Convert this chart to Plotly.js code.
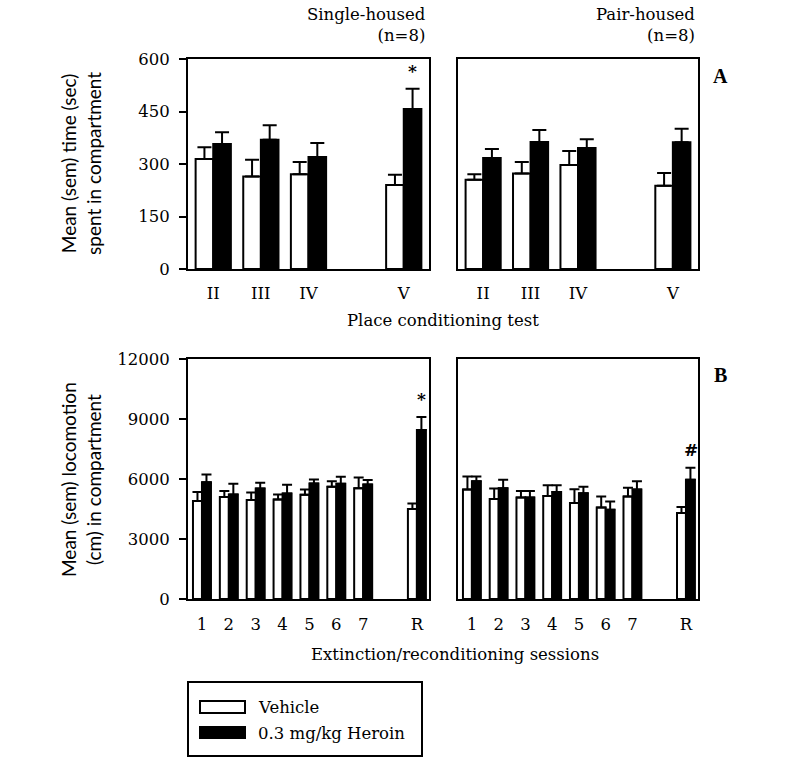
<!DOCTYPE html>
<html>
<head>
<meta charset="utf-8">
<script src="https://cdn.plot.ly/plotly-3.0.1.min.js"></script>
<style>html,body{margin:0;padding:0;background:#fff;}#chart{width:791px;height:760px;}</style>
</head>
<body>
<div id="chart"></div>
<script>
// ---------- DATA ----------
const placeTests = ['II', 'III', 'IV', 'V'];
const sessions = ['1', '2', '3', '4', '5', '6', '7', 'R'];

// Panel A: time in compartment (sec), mean and upper SEM
const singleVehicleA = [314, 264, 271, 240];
const singleVehicleAErr = [34, 48, 35, 29];
const singleHeroinA = [357, 369, 320, 457];
const singleHeroinAErr = [34, 42, 40, 58];
const pairVehicleA = [255, 273, 297, 238];
const pairVehicleAErr = [16, 33, 40, 36];
const pairHeroinA = [317, 363, 346, 362];
const pairHeroinAErr = [26, 34, 25, 39];

// Panel B: locomotion (cm), mean and upper SEM
const singleVehicleB = [4900, 5100, 4950, 4980, 5210, 5610, 5540, 4500];
const singleVehicleBErr = [450, 300, 380, 250, 265, 280, 530, 280];
const singleHeroinB = [5840, 5230, 5530, 5280, 5780, 5760, 5730, 8450];
const singleHeroinBErr = [380, 530, 280, 430, 200, 350, 220, 650];
const pairVehicleB = [5470, 5000, 5070, 5150, 4800, 4580, 5120, 4300];
const pairVehicleBErr = [650, 520, 335, 540, 690, 540, 440, 300];
const pairHeroinB = [5890, 5540, 5070, 5350, 5290, 4460, 5470, 5960];
const pairHeroinBErr = [235, 420, 335, 340, 320, 420, 420, 600];

const seriesNames = ['Vehicle', '0.3 mg/kg Heroin'];
const groupLabels = ['Single-housed<br>(n=8)', 'Pair-housed<br>(n=8)'];
const yTitleA = 'Mean (sem) time (sec)<br>spent in compartment';
const yTitleB = 'Mean (sem) locomotion<br>(cm) in compartment';
const xTitleA = 'Place conditioning test';
const xTitleB = 'Extinction/reconditioning sessions';
const yTicksA = [0, 150, 300, 450, 600];
const yTicksB = [0, 3000, 6000, 9000, 12000];

// ---------- LAYOUT HELPERS ----------
const W = 791, H = 760;
const px = x => x / W;
const py = y => 1 - y / H;
const SERIF = 'DejaVu Serif';
const SANS = 'Lato';
const FS = 16.5;

// category order with a blank spacer before the last category
const withSpacer = cats => cats.slice(0, -1).concat([' '], cats.slice(-1));

function barPair(cats, vMean, vErr, hMean, hErr, xa, ya, w, capw) {
  const zeros = cats.map(() => 0);
  return [
    {
      type: 'bar', x: cats, y: vMean, name: seriesNames[0], xaxis: xa, yaxis: ya,
      width: w, offset: -w, showlegend: false,
      marker: {color: '#ffffff', line: {color: '#000000', width: 2}},
      error_y: {type: 'data', symmetric: false, array: vErr, arrayminus: zeros,
                color: '#000', thickness: 2, width: capw}
    },
    {
      type: 'bar', x: cats, y: hMean, name: seriesNames[1], xaxis: xa, yaxis: ya,
      width: w, offset: 0, showlegend: false,
      marker: {color: '#000000', line: {color: '#000000', width: 2}},
      error_y: {type: 'data', symmetric: false, array: hErr, arrayminus: zeros,
                color: '#000', thickness: 2, width: capw}
    }
  ];
}

const data = [].concat(
  barPair(placeTests, singleVehicleA, singleVehicleAErr, singleHeroinA, singleHeroinAErr, 'x', 'y', 0.37, 7),
  barPair(placeTests, pairVehicleA, pairVehicleAErr, pairHeroinA, pairHeroinAErr, 'x2', 'y2', 0.37, 7),
  barPair(sessions, singleVehicleB, singleVehicleBErr, singleHeroinB, singleHeroinBErr, 'x3', 'y3', 0.335, 5),
  barPair(sessions, pairVehicleB, pairVehicleBErr, pairHeroinB, pairHeroinBErr, 'x4', 'y4', 0.335, 5)
);

const colL = [px(188), px(429)];
const colR = [px(458), px(698)];
const rowA = [py(269), py(59)];
const rowB = [py(599), py(359)];

function xAxis(domain, anchor, cats, range, standoff) {
  return {
    domain: domain, anchor: anchor, type: 'category',
    categoryorder: 'array', categoryarray: withSpacer(cats),
    range: range, showline: true, mirror: true, linecolor: '#000', linewidth: 2,
    ticks: '', showgrid: false, zeroline: false, fixedrange: true,
    tickfont: {family: SERIF, size: FS, color: '#000'},
    ticklabelstandoff: standoff
  };
}
function yAxis(domain, anchor, range, tickvals, showLabels) {
  return {
    domain: domain, anchor: anchor, range: range,
    showline: true, mirror: true, linecolor: '#000', linewidth: 2,
    ticks: showLabels ? 'outside' : '', ticklen: 7, tickwidth: 2, tickcolor: '#000',
    tickvals: tickvals, tickformat: 'd', showticklabels: showLabels,
    showgrid: false, zeroline: false, fixedrange: true,
    tickfont: {family: SERIF, size: FS, color: '#000'},
    ticklabelstandoff: 6
  };
}

const annFont = {family: SERIF, size: FS, color: '#000'};
const titleFont = {family: SANS, size: 19, color: '#000'};
const annotations = [
  {xref: 'paper', yref: 'paper', x: px(428), y: py(3), xanchor: 'right', yanchor: 'top',
   align: 'right', text: groupLabels[0], showarrow: false, font: annFont},
  {xref: 'paper', yref: 'paper', x: px(697), y: py(3), xanchor: 'right', yanchor: 'top',
   align: 'right', text: groupLabels[1], showarrow: false, font: annFont},
  {xref: 'paper', yref: 'paper', x: px(443), y: py(321), xanchor: 'center', yanchor: 'middle',
   text: xTitleA, showarrow: false, font: annFont},
  {xref: 'paper', yref: 'paper', x: px(455), y: py(654), xanchor: 'center', yanchor: 'middle',
   text: xTitleB, showarrow: false, font: annFont},
  {xref: 'paper', yref: 'paper', x: px(81), y: py(164), xanchor: 'center', yanchor: 'middle',
   text: yTitleA, textangle: -90, showarrow: false, font: titleFont},
  {xref: 'paper', yref: 'paper', x: px(81), y: py(480), xanchor: 'center', yanchor: 'middle',
   text: yTitleB, textangle: -90, showarrow: false, font: titleFont},
  {xref: 'paper', yref: 'paper', x: px(720), y: py(76), xanchor: 'center', yanchor: 'middle',
   text: '<b>A</b>', showarrow: false, font: {family: 'Liberation Serif', size: 20, color: '#000'}},
  {xref: 'paper', yref: 'paper', x: px(720), y: py(375), xanchor: 'center', yanchor: 'middle',
   text: '<b>B</b>', showarrow: false, font: {family: 'Liberation Serif', size: 20, color: '#000'}},
  // significance markers
  {xref: 'x', yref: 'y', x: 'V', y: singleHeroinA[3] + singleHeroinAErr[3], xshift: 9, yshift: 6,
   yanchor: 'bottom', text: '<b>*</b>', showarrow: false, font: {family: SERIF, size: 17, color: '#000'}},
  {xref: 'x3', yref: 'y3', x: 'R', y: singleHeroinB[7] + singleHeroinBErr[7], xshift: 5, yshift: 6,
   yanchor: 'bottom', text: '<b>*</b>', showarrow: false, font: {family: SERIF, size: 17, color: '#000'}},
  {xref: 'x4', yref: 'y4', x: 'R', y: pairHeroinB[7] + pairHeroinBErr[7], xshift: 5, yshift: 6,
   yanchor: 'bottom', text: '<b>#</b>', showarrow: false, font: {family: SERIF, size: 17, color: '#000'}},
  // legend labels
  {xref: 'paper', yref: 'paper', x: px(256), y: py(707), xanchor: 'left', yanchor: 'middle',
   text: seriesNames[0], showarrow: false, font: annFont},
  {xref: 'paper', yref: 'paper', x: px(256), y: py(733), xanchor: 'left', yanchor: 'middle',
   text: seriesNames[1], showarrow: false, font: annFont}
];

const shapes = [
  {type: 'rect', xref: 'paper', yref: 'paper', x0: px(188), x1: px(422), y0: py(682), y1: py(756),
   line: {color: '#000', width: 2}, fillcolor: 'rgba(0,0,0,0)'},
  {type: 'rect', xref: 'paper', yref: 'paper', x0: px(200), x1: px(245), y0: py(701), y1: py(713),
   line: {color: '#000', width: 2}, fillcolor: '#fff'},
  {type: 'rect', xref: 'paper', yref: 'paper', x0: px(200), x1: px(245), y0: py(727), y1: py(738),
   line: {color: '#000', width: 2}, fillcolor: '#000'}
];

const layout = {
  width: W, height: H,
  margin: {l: 0, r: 0, t: 0, b: 0, pad: 0},
  paper_bgcolor: '#fff', plot_bgcolor: 'rgba(0,0,0,0)',
  showlegend: false,
  barmode: 'group',
  xaxis: xAxis(colL, 'y', placeTests, [-0.53, 4.53], 8),
  xaxis2: xAxis(colR, 'y2', placeTests, [-0.53, 4.53], 8),
  xaxis3: xAxis(colL, 'y3', sessions, [-0.52, 8.45], 9),
  xaxis4: xAxis(colR, 'y4', sessions, [-0.52, 8.45], 9),
  yaxis: yAxis(rowA, 'x', [0, 600], yTicksA, true),
  yaxis2: yAxis(rowA, 'x2', [0, 600], yTicksA, false),
  yaxis3: yAxis(rowB, 'x3', [0, 12000], yTicksB, true),
  yaxis4: yAxis(rowB, 'x4', [0, 12000], yTicksB, false),
  annotations: annotations,
  shapes: shapes
};

Plotly.newPlot('chart', data, layout, {staticPlot: true, displayModeBar: false});
</script>
</body>
</html>
